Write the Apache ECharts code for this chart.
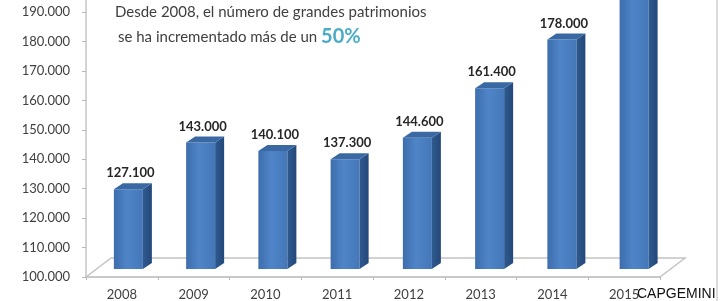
<!DOCTYPE html>
<html>
<head>
<meta charset="utf-8">
<script src="https://cdn.jsdelivr.net/npm/echarts@6/dist/echarts.min.js"></script>
<style>
html,body{margin:0;padding:0;background:#fff;}
#chart{width:720px;height:301px;}
</style>
</head>
<body>
<div id="chart"></div>
<script>
// Data
var categories = ['2008', '2009', '2010', '2011', '2012', '2013', '2014', '2015'];
var values = [127100, 143000, 140100, 137300, 144600, 161400, 178000, 192000];
var yTicks = [100000, 110000, 120000, 130000, 140000, 150000, 160000, 170000, 180000, 190000];
var titleLine1 = 'Desde 2008, el número de grandes patrimonios';
var titleLine2 = 'se ha incrementado más de un ';
var titleHighlight = '50%';
var sourceText = 'CAPGEMINI';

function fmt(v) {
  return String(Math.round(v)).replace(/\B(?=(\d{3})+(?!\d))/g, '.');
}

var chart = echarts.init(document.getElementById('chart'), null, {renderer: 'canvas'});

var baseValue = yTicks[0];
var FONT = 'Lato, "Open Sans", sans-serif';

function renderBar(params, api) {
  var idx = api.value(0);
  var val = api.value(1);
  var top = api.coord([idx, val]);
  var base = api.coord([idx, baseValue]);
  var w = 29, dx = 9, dy = 6, lift = 8;
  var off = 6.5 + 0.5 * idx;
  var cx = top[0] + off;
  var x0 = cx - w / 2, x1 = cx + w / 2;
  var yb = base[1] - lift, yt = top[1] - lift;
  var front = {
    type: 'rect',
    shape: {x: x0, y: yt, width: w, height: yb - yt},
    style: {
      fill: new echarts.graphic.LinearGradient(0, 0, 1, 0, [
        {offset: 0, color: '#3d6dac'},
        {offset: 0.45, color: '#4f85c8'},
        {offset: 1, color: '#4477b8'}
      ])
    }
  };
  var side = {
    type: 'polygon',
    shape: {points: [[x1, yt], [x1 + dx, yt - dy], [x1 + dx, yb - dy], [x1, yb]]},
    style: {
      fill: new echarts.graphic.LinearGradient(0, 0, 1, 0, [
        {offset: 0, color: '#2f5a8f'},
        {offset: 1, color: '#24487a'}
      ])
    }
  };
  var topFace = {
    type: 'polygon',
    shape: {points: [[x0, yt], [x0 + dx, yt - dy], [x1 + dx, yt - dy], [x1, yt]]},
    style: {fill: '#3a68a3'}
  };
  var label = {
    type: 'text',
    style: {
      text: fmt(val),
      x: cx + 2,
      y: yt - 16,
      align: 'center',
      verticalAlign: 'middle',
      font: 'bold 13px ' + FONT,
      fill: '#262626'
    }
  };
  return {type: 'group', children: [front, side, topFace, label]};
}

function renderFloor(params, api) {
  var first = api.coord([0, baseValue]);
  var last = api.coord([categories.length - 1, baseValue]);
  var band = api.size([1, 0])[0];
  var left = first[0] - band / 2;
  var right = last[0] + band / 2;
  var y = first[1];
  var ddx = 25, ddy = 19;
  var st = {stroke: '#c4c4c4', lineWidth: 1.5, fill: null};
  return {
    type: 'group',
    children: [
      {type: 'polyline', shape: {points: [[left, y], [left + ddx, y - ddy], [right + ddx, y - ddy], [right, y]]}, style: st}
    ]
  };
}

var option = {
  animation: false,
  backgroundColor: '#ffffff',
  title: {
    left: 115,
    top: 0,
    padding: 0,
    text: '{a|' + titleLine1 + '}\n{b|' + titleLine2 + '}{c|' + titleHighlight + '}',
    textStyle: {
      fontWeight: 'normal',
      rich: {
        a: {fontFamily: FONT, fontSize: 15, fontWeight: 'normal', color: '#404040', lineHeight: 24},
        b: {fontFamily: FONT, fontSize: 15, fontWeight: 'normal', color: '#404040', lineHeight: 26, padding: [0, 0, 0, 3]},
        c: {fontFamily: FONT, fontSize: 20, fontWeight: 'bold', color: '#4bacc6', lineHeight: 26}
      }
    }
  },
  grid: {left: 86, right: 60, top: 0, bottom: 24, containLabel: false},
  xAxis: {
    type: 'category',
    data: categories,
    boundaryGap: true,
    axisLine: {show: true, lineStyle: {color: '#b8b8b8', width: 1.5}},
    axisTick: {show: true, length: 3, lineStyle: {color: '#b8b8b8'}},
    axisLabel: {color: '#404040', fontFamily: FONT, fontSize: 13, margin: 11}
  },
  yAxis: {
    type: 'value',
    min: 100000,
    max: 194100,
    splitLine: {show: false},
    axisLine: {show: true, lineStyle: {color: '#c4c4c4', width: 1.5}},
    axisTick: {show: true, length: 4, customValues: yTicks, lineStyle: {color: '#b8b8b8'}},
    axisLabel: {
      customValues: yTicks,
      color: '#404040', fontFamily: FONT, fontSize: 13, margin: 16,
      formatter: function (v) { return fmt(v); }
    }
  },
  series: [
    {
      type: 'custom',
      name: 'floor',
      z: 1,
      silent: true,
      clip: false,
      renderItem: renderFloor,
      data: [[0, baseValue]]
    },
    {
      type: 'custom',
      name: 'patrimonios',
      z: 3,
      clip: false,
      renderItem: renderBar,
      encode: {x: 0, y: 1},
      data: values.map(function (v, i) { return [i, v]; })
    }
  ],
  graphic: [
    {type: 'text', left: 637, top: 287, z: 10,
     style: {text: sourceText, font: '14px "Liberation Sans", Arial, sans-serif', fill: '#111'}},
    {type: 'line', shape: {x1: 717, y1: 0, x2: 717, y2: 301}, style: {stroke: '#cfcfcf', lineWidth: 1.5}}
  ]
};

chart.setOption(option);
</script>
</body>
</html>
